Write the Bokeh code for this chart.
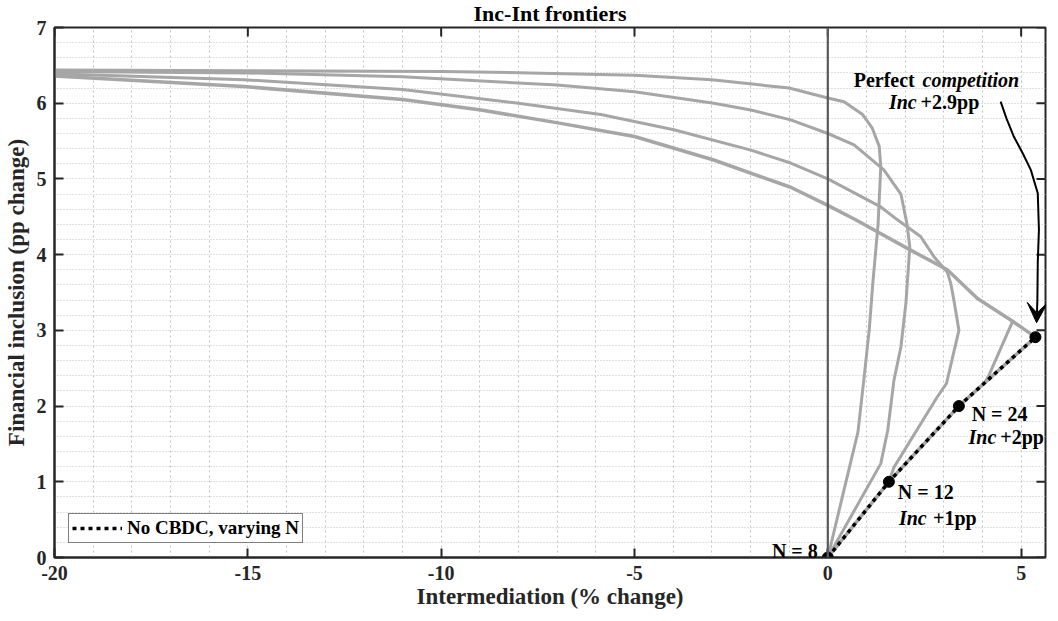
import math
from bokeh.plotting import figure
from bokeh.models import (Range1d, FixedTicker, SingleIntervalTicker,
                          Span, Label, Arrow, VeeHead, Legend, LegendItem)
from bokeh.embed import file_html
from bokeh.resources import INLINE

# ---------------- data ----------------
# Frontier 1
c1_x = [0, 0.78, 0.93, 1.07, 1.17, 1.30, 1.37, 1.33, 1.15, 0.90, 0.42, 0, -1.0, -3.0, -5.0, -7.7, -10.0, -15.0, -20.0]
c1_y = [0, 1.66, 2.34, 3.00, 3.66, 4.40, 5.16, 5.43, 5.67, 5.85, 6.02, 6.07, 6.20, 6.31, 6.37, 6.40, 6.42, 6.43, 6.44]
# Frontier 2
c2_x = [0, 1.37, 1.55, 1.71, 1.89, 2.02, 2.12, 2.05, 1.89, 1.45, 0.68, 0, -0.96, -1.99, -2.95, -5.0, -7.0, -11.0, -15.0, -20.0]
c2_y = [0, 1.24, 1.68, 2.34, 2.78, 3.36, 4.10, 4.40, 4.80, 5.12, 5.45, 5.60, 5.78, 5.91, 6.00, 6.15, 6.24, 6.35, 6.40, 6.42]
# Frontier 3
c3_x = [1.58, 1.71, 2.30, 2.83, 3.07, 3.39, 3.26, 3.18, 3.09, 2.75, 2.40, 1.80, 1.37, 0, -0.96, -1.99, -3.98, -5.87, -8.0, -11.0, -15.1, -20.0]
c3_y = [1.00, 1.19, 1.68, 2.12, 2.30, 3.00, 3.40, 3.62, 3.77, 3.97, 4.24, 4.46, 4.63, 5.00, 5.21, 5.38, 5.65, 5.85, 6.00, 6.18, 6.31, 6.39]
# Frontier 4
c4_x = [0, 1.58, 3.39, 5.37, 4.78, 3.87, 3.09, 2.14, 0.72, 0, -0.96, -2.95, -5.0, -6.98, -8.97, -11.0, -15.1, -20.0]
c4_y = [0, 1.00, 2.00, 2.91, 3.12, 3.42, 3.80, 4.06, 4.46, 4.65, 4.89, 5.25, 5.56, 5.74, 5.91, 6.05, 6.22, 6.36]
# Branch from the kink of frontier 4
c5_x = [4.78, 4.16, 4.05]
c5_y = [3.12, 2.40, 2.30]
# No CBDC, varying N (N = 8, 12, 24, perfect competition)
n_x = [0, 1.58, 3.39, 5.37]
n_y = [0, 1.00, 2.00, 2.91]

x_ticks = [-20, -15, -10, -5, 0, 5]
y_ticks = [0, 1, 2, 3, 4, 5, 6, 7]
x_min, x_max = -20, 5.63
y_min, y_max = 0, 7

FONT = "Liberation Serif"
DARK = "#262626"
GRAY = "#a6a6a6"

p = figure(width=1050, height=616, output_backend="svg", toolbar_location=None,
           x_range=Range1d(x_min, x_max), y_range=Range1d(y_min, y_max),
           min_border_left=53, min_border_right=5, min_border_top=27, min_border_bottom=59,
           background_fill_color="white", border_fill_color="white")
p.outline_line_color = DARK
p.outline_line_width = 2

p.title.text = "Inc-Int frontiers"
p.title.align = "center"
p.title.vertical_align = "top"
p.title.text_font = FONT
p.title.text_font_style = "bold"
p.title.text_font_size = "22px"
p.title.text_color = "black"
p.title.standoff = 0
p.title.offset = 12

# grids
p.xgrid[0].ticker = SingleIntervalTicker(interval=1)
p.ygrid[0].ticker = SingleIntervalTicker(interval=0.2)
p.xgrid.grid_line_color = "#c2c2c2"
p.xgrid.grid_line_dash = "2 3"
p.ygrid.grid_line_color = "#c2c2c2"
p.ygrid.grid_line_dash = "1 2"

def style_axis(ax):
    ax.axis_line_color = DARK
    ax.axis_line_width = 2
    ax.major_tick_in = 9
    ax.major_tick_out = 0
    ax.major_tick_line_width = 2
    ax.major_tick_line_color = DARK
    ax.minor_tick_line_color = None
    ax.major_label_text_font = FONT
    ax.major_label_text_font_style = "bold"
    ax.major_label_text_color = DARK
    ax.major_label_text_font_size = "20px"
    ax.axis_label_text_font = FONT
    ax.axis_label_text_font_style = "bold"
    ax.axis_label_text_font_size = "23px"
    ax.axis_label_text_color = DARK

xa = p.xaxis[0]
ya = p.yaxis[0]
xa.ticker = FixedTicker(ticks=x_ticks)
ya.ticker = FixedTicker(ticks=y_ticks)
xa.major_label_overrides = {t: str(t) for t in x_ticks}
style_axis(xa)
style_axis(ya)
xa.axis_label = "Intermediation (% change)"
ya.axis_label = "Financial inclusion (pp change)"
xa.major_label_standoff = 8
xa.axis_label_standoff = 1
ya.major_label_standoff = 8
ya.axis_label_standoff = 5

# tick marks on the top and right edges of the box
p.ray(x=x_ticks, y=[y_max] * len(x_ticks), length=9, length_units="screen",
      angle=-math.pi / 2, line_color=DARK, line_width=2)
p.ray(x=[x_max] * len(y_ticks), y=y_ticks, length=9, length_units="screen",
      angle=math.pi, line_color=DARK, line_width=2)

# frontiers
for xs, ys, w in [(c1_x, c1_y, 3), (c2_x, c2_y, 3), (c3_x, c3_y, 3), (c4_x, c4_y, 3.5), (c5_x, c5_y, 3)]:
    p.line(xs, ys, line_color=GRAY, line_width=w, line_join="round")

# zero line
p.add_layout(Span(location=0, dimension="height", line_color="#595959", line_width=2.2))

# no CBDC line
dotted = p.line(n_x, n_y, line_color="black", line_width=3.5, line_dash="4 4")
p.scatter(n_x, n_y, marker="circle", size=11, fill_color="black", line_color="black")

# arrow (annotation)
arrow_px = [4.47, 4.62, 4.81, 5.05, 5.25, 5.43, 5.46, 5.43, 5.42]
arrow_py = [6.02, 5.80, 5.56, 5.33, 5.12, 4.81, 4.33, 3.90, 3.40]
p.line(arrow_px, arrow_py, line_color="black", line_width=2)
p.add_layout(Arrow(end=VeeHead(size=20, fill_color="black", line_color="black"),
                   x_start=5.42, y_start=3.40, x_end=5.40, y_end=3.10,
                   line_color="black", line_width=2))

def lab(x, y, text, style="bold", align="left", size="20px"):
    p.add_layout(Label(x=x, y=y, text=text, text_font=FONT, text_font_style=style,
                       text_font_size=size, text_align=align, text_baseline="alphabetic",
                       text_color="black"))

lab(-0.26, 0.08, "N = 8", align="right")
lab(1.81, 0.86, "N = 12")
lab(1.84, 0.52, "Inc", style="bold italic")
lab(2.72, 0.52, "+1pp")
lab(3.72, 1.90, "N = 24")
lab(3.64, 1.59, "Inc", style="bold italic")
lab(4.46, 1.59, "+2pp")
lab(0.67, 6.31, "Perfect")
lab(2.45, 6.31, "competition", style="bold italic")
lab(1.58, 6.02, "Inc", style="bold italic")
lab(2.40, 6.02, "+2.9pp")

legend = Legend(items=[LegendItem(label="No CBDC, varying N", renderers=[dotted])],
                location=(14, 14), orientation="vertical")
legend.border_line_color = "black"
legend.border_line_width = 1.5
legend.background_fill_color = "white"
legend.background_fill_alpha = 1
legend.padding = 3
legend.margin = 0
legend.spacing = 0
legend.glyph_width = 50
legend.glyph_height = 20
legend.label_standoff = 5
legend.label_text_font = FONT
legend.label_text_font_style = "bold"
legend.label_text_font_size = "19px"
legend.label_text_color = "black"
p.add_layout(legend, "center")

open("out.html", "w").write(file_html(p, INLINE))
